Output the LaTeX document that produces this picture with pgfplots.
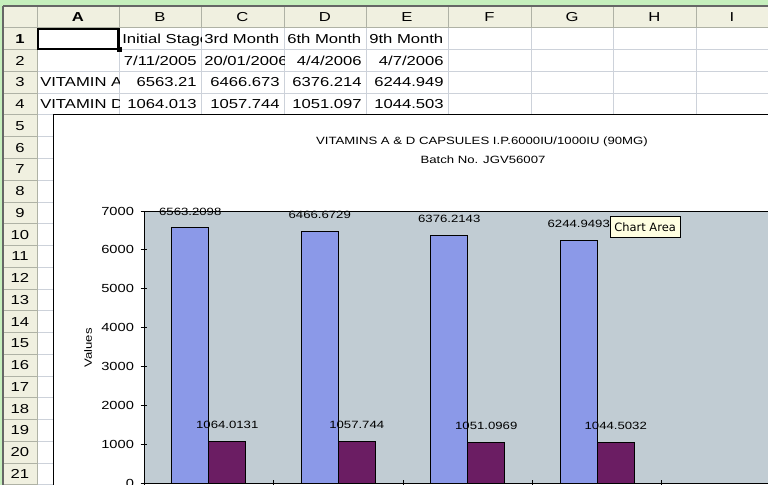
\documentclass[border=0pt]{standalone}
\usepackage{pgfplots}
\pgfplotsset{compat=1.18}
\usepackage{fontspec}
\setmainfont{Liberation Sans}
\newfontfamily\sheetf[FakeStretch=1.28]{Liberation Sans}
\newfontfamily\chartf[FakeStretch=1.25]{Liberation Sans}
\newfontfamily\tipf{DejaVu Sans}
\definecolor{xlgreen}{RGB}{198,239,189}
\definecolor{xlhead}{RGB}{240,240,224}
\definecolor{xlgrid}{RGB}{205,210,218}
\definecolor{xlhline}{RGB}{175,178,165}
\definecolor{plotbg}{RGB}{193,204,211}
\definecolor{barA}{RGB}{139,153,232}
\definecolor{barD}{RGB}{107,29,99}
\definecolor{tipbg}{RGB}{255,255,225}
\newcommand\sheetfont{\sheetf\fontsize{9.75pt}{11pt}\selectfont}
\newcommand\chartfont{\chartf\fontsize{7.9pt}{9pt}\selectfont}
\newcommand\tickfont{\chartf\fontsize{8.8pt}{10pt}\selectfont}
% left-aligned cell: x0, x1, row, text
\newcommand\cellL[4]{\begin{scope}\clip (#1,{28+(#3-1)*21.75}) rectangle (#2,{28+#3*21.75});
 \node[anchor=base west,inner sep=0] at ({#1+3},{28+(#3-0.5)*21.75+4.6}) {\sheetfont #4};\end{scope}}
\newcommand\cellR[4]{\begin{scope}\clip (#1,{28+(#3-1)*21.75}) rectangle (#2,{28+#3*21.75});
 \node[anchor=base east,inner sep=0] at ({#2-4},{28+(#3-0.5)*21.75+4.6}) {\sheetfont #4};\end{scope}}
\begin{document}
\begin{tikzpicture}
\useasboundingbox (0,0) rectangle (576pt,-363.75pt);
\clip (0,0) rectangle (576pt,-363.75pt);
\begin{scope}[x=0.75pt,y=-0.75pt]
 \fill[xlgreen] (0,0) rectangle (768,485);
 \fill[white] (37,28) rectangle (768,485);
 \fill[xlhead] (3,6) rectangle (768,28);
 \fill[xlhead] (3,28) rectangle (37,485);
 % grid
 \foreach \x in {119,201,284,366,448,531,613,696} {\draw[xlgrid,line width=0.75pt] (\x,28) -- (\x,485);}
 \foreach \n in {1,...,21} {\draw[xlgrid,line width=0.75pt] (37,{28+\n*21.75}) -- (768,{28+\n*21.75});}
 \foreach \x in {37,119,201,284,366,448,531,613,696} {\draw[xlhline,line width=0.75pt] (\x,6) -- (\x,28);}
 \foreach \n in {1,...,21} {\draw[xlhline,line width=0.75pt] (3,{28+\n*21.75}) -- (37,{28+\n*21.75});}
 \draw[xlhline,line width=0.75pt] (3,28) -- (768,28);
 \draw[xlhline,line width=0.75pt] (37,28) -- (37,485);
 \draw[black!60,line width=1pt] (3,6) -- (768,6);
 \draw[black!60,line width=1pt] (3,6) -- (3,485);
 % headers
 \node at (78,17.5) {\sheetfont\bfseries A};
 \node at (160,17.5) {\sheetfont B};
 \node at (242.5,17.5) {\sheetfont C};
 \node at (325,17.5) {\sheetfont D};
 \node at (407,17.5) {\sheetfont E};
 \node at (489.5,17.5) {\sheetfont F};
 \node at (572,17.5) {\sheetfont G};
 \node at (654.5,17.5) {\sheetfont H};
 \node at (732,17.5) {\sheetfont I};
 \foreach \n in {1,...,21} {\node at (20,{28+(\n-0.5)*21.75}) {\sheetfont\ifnum\n=1 \bfseries\fi \n};}
 % cells
 \cellL{119}{201}{1}{Initial Stage}
 \cellL{201}{284}{1}{3rd Month}
 \cellL{284}{366}{1}{6th Month}
 \cellL{366}{448}{1}{9th Month}
 \cellR{119}{201}{2}{7/11/2005}
 \cellL{201}{284}{2}{20/01/2006}
 \cellR{284}{366}{2}{4/4/2006}
 \cellR{366}{448}{2}{4/7/2006}
 \cellL{37}{119}{3}{VITAMIN A}
 \cellR{119}{201}{3}{6563.21}
 \cellR{201}{284}{3}{6466.673}
 \cellR{284}{366}{3}{6376.214}
 \cellR{366}{448}{3}{6244.949}
 \cellL{37}{119}{4}{VITAMIN D}
 \cellR{119}{201}{4}{1064.013}
 \cellR{201}{284}{4}{1057.744}
 \cellR{284}{366}{4}{1051.097}
 \cellR{366}{448}{4}{1044.503}
 % selection
 \draw[black,line width=1.6pt] (38,29) rectangle (118.5,49);
 \fill[black] (116.5,47) rectangle (121.5,52);
 % chart area
 \draw[fill=white,draw=black,line width=0.75pt] (53,115) rectangle (800,520);
\end{scope}
\begin{axis}[
 at={(108pt,-362.25pt)}, anchor=south west,
 scale only axis, width=485.625pt, height=204pt,
 xmin=-0.5, xmax=4.5, ymin=0, ymax=7000,
 axis background/.style={fill=plotbg},
 ybar=0pt, bar width=27.75pt,
 xtick={-0.5,0.5,1.5,2.5,3.5,4.5}, xticklabels={},
 ytick={0,1000,2000,3000,4000,5000,6000,7000},
 yticklabels={0,1000,2000,3000,4000,5000,6000,7000},
 yticklabel style={font=\tickfont, xshift=-1.5pt},
 xtick pos=bottom, ytick pos=left,
 tick align=center, major tick length=5pt,
 tick style={black, line width=0.75pt},
 axis line style={black, line width=0.75pt},
 clip=false,
 nodes near coords, point meta=explicit symbolic,
 every node near coord/.append style={font=\chartfont, anchor=center, yshift=12.4pt, text=black},
]
\addplot[fill=barA, draw=black, line width=0.75pt] coordinates {(0,6563.2098)[6563.2098] (1,6466.6729)[6466.6729] (2,6376.2143)[6376.2143] (3,6244.9493)[6244.9493]};
\addplot[fill=barD, draw=black, line width=0.75pt] coordinates {(0,1064.0131)[1064.0131] (1,1057.744)[1057.744] (2,1051.0969)[1051.0969] (3,1044.5032)[1044.5032]};
\end{axis}
\begin{scope}[x=0.75pt,y=-0.75pt]
 \node at (482,142) {\chartfont VITAMINS A \& D CAPSULES I.P.6000IU/1000IU (90MG)};
 \node at (483,160) {\chartfont Batch No. JGV56007};
 \node[rotate=90] at (88,348) {\chartfont Values};
 \node[draw=black, fill=tipbg, line width=0.5pt, anchor=north west, inner xsep=3pt, minimum height=15.75pt] at (610,216) {\tipf\fontsize{8.6pt}{10pt}\selectfont Chart Area};
\end{scope}
\end{tikzpicture}
\end{document}
